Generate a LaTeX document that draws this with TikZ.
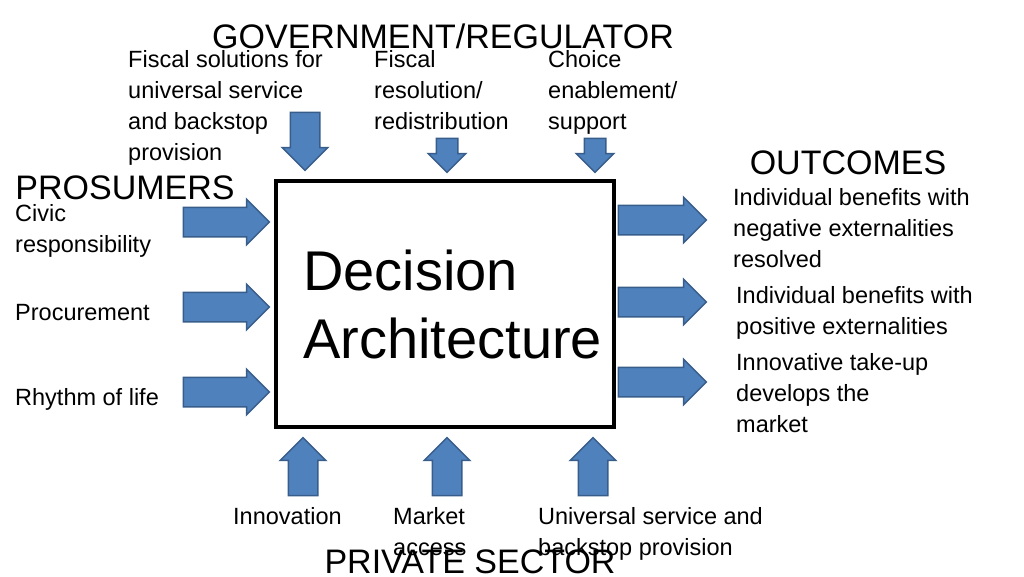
\documentclass[tikz,border=0pt]{standalone}
\usepackage{fontspec}
\setmainfont{Liberation Sans}
\usetikzlibrary{shapes.arrows}
\definecolor{arrowblue}{HTML}{4F81BD}
\definecolor{arrowedge}{HTML}{385D8A}
\begin{document}
\begin{tikzpicture}[x=1pt, y=-1pt,
    blockarrow/.style={single arrow, draw=arrowedge, fill=arrowblue, line width=1.5pt,
      single arrow head extend=8pt, inner sep=14pt, single arrow tip angle=90},
    item/.style={anchor=north west, align=left, font=\fontsize{23.5}{31}\selectfont, inner sep=0pt},
    heading/.style={font=\fontsize{34}{38}\selectfont, inner sep=0pt}]
    \useasboundingbox (0,0) rectangle (1024,576);
    % central box
    \node (box) [draw, line width=3.5pt, minimum width=338pt, minimum height=246pt] at (445,304) {};
    \node (title) [anchor=north west, align=left, inner sep=0pt, font=\fontsize{56}{68}\selectfont] at (303,250) {Decision\\Architecture};

    % headings
    \node (gov) [heading] at (443,36) {GOVERNMENT/REGULATOR};
    \node (pros) [heading] at (125,188) {PROSUMERS};
    \node (out) [heading] at (848,163) {OUTCOMES};
    \node (priv) [heading] at (470,562) {PRIVATE SECTOR};

    % government inputs
    \node (g1) [blockarrow, minimum height=58pt, shape border rotate=270] at (305,134) {};
    \node (g2) [blockarrow, minimum height=34pt, shape border rotate=270, inner sep=10pt] at (447,150) {};
    \node (g3) [blockarrow, minimum height=34pt, shape border rotate=270, inner sep=10pt] at (595,150) {};
    \node (tg1) [item] at (128,50) {Fiscal solutions for\\universal service\\and backstop\\provision};
    \node (tg2) [item] at (374,50) {Fiscal\\resolution/\\redistribution};
    \node (tg3) [item] at (548,50) {Choice\\enablement/\\support};

    % prosumer inputs
    \node (p1) [blockarrow, minimum height=86pt] at (219,222) {};
    \node (p2) [blockarrow, minimum height=86pt] at (219,307) {};
    \node (p3) [blockarrow, minimum height=86pt] at (219,392) {};
    \node (tp1) [item] at (15,204) {Civic\\responsibility};
    \node (tp2) [item] at (15,304) {Procurement};
    \node (tp3) [item] at (15,388) {Rhythm of life};

    % private sector inputs
    \node (s1) [blockarrow, minimum height=58pt, shape border rotate=90] at (303,474) {};
    \node (s2) [blockarrow, minimum height=58pt, shape border rotate=90] at (447,474) {};
    \node (s3) [blockarrow, minimum height=58pt, shape border rotate=90] at (593,474) {};
    \node (ts1) [item] at (233,507) {Innovation};
    \node (ts2) [item] at (393,507) {Market\\access};
    \node (ts3) [item] at (538,507) {Universal service and\\backstop provision};

    % outcomes
    \node (o1) [blockarrow, minimum height=88pt] at (655,220) {};
    \node (o2) [blockarrow, minimum height=88pt] at (655,302) {};
    \node (o3) [blockarrow, minimum height=88pt] at (655,382) {};
    \node (to1) [item] at (733,188) {Individual benefits with\\negative externalities\\resolved};
    \node (to2) [item] at (736,286) {Individual benefits with\\positive externalities};
    \node (to3) [item] at (736,353) {Innovative take-up\\develops the\\market};
\end{tikzpicture}
\end{document}
